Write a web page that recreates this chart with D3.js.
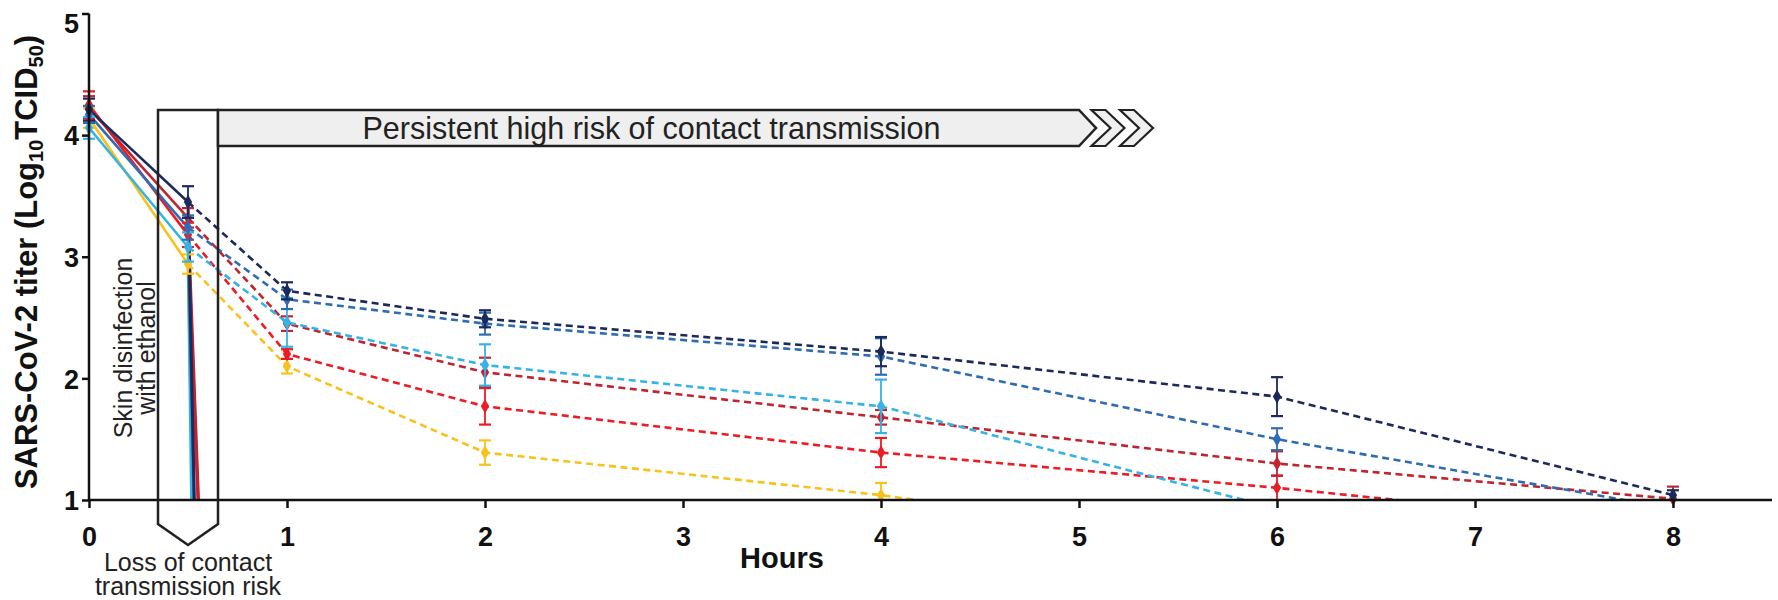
<!DOCTYPE html>
<html>
<head>
<meta charset="utf-8">
<script src="https://cdn.jsdelivr.net/npm/d3@7"></script>
<style>
  html, body { margin: 0; padding: 0; background: #fff; }
  svg { display: block; }
  text { font-family: "Liberation Sans", Arial, Helvetica, sans-serif; }
</style>
</head>
<body>
<svg id="chart" width="1778" height="600"></svg>
<script>
// ---------------- DATA ----------------
const hours = [0, 0.5, 1, 2, 4, 6, 8];
const xTicks = [0, 1, 2, 3, 4, 5, 6, 7, 8];
const yTicks = [1, 2, 3, 4, 5];

const navyTiter    = [4.21, 3.45, 2.72, 2.49, 2.22, 1.85, 1.04];
const navyErr      = [0.09, 0.13, 0.07, 0.07, 0.12, 0.16, 0.04];
const blueTiter    = [4.17, 3.24, 2.65, 2.45, 2.18, 1.50, 0.93];
const blueErr      = [0.07, 0.10, 0.08, 0.09, 0.15, 0.09, 0];
const cyanTiter    = [4.06, 3.08, 2.46, 2.11, 1.77, 0.93];
const cyanErr      = [0.09, 0.12, 0.20, 0.17, 0.22, 0];
const darkRedTiter = [4.22, 3.32, 2.45, 2.05, 1.68, 1.30, 1.01];
const darkRedErr   = [0.10, 0.08, 0.06, 0.12, 0.06, 0.10, 0.10];
const redTiter     = [4.25, 3.18, 2.20, 1.77, 1.39, 1.10, 0.77];
const redErr       = [0.11, 0.10, 0.04, 0.15, 0.12, 0.10, 0];
const yellowTiter  = [4.14, 2.94, 2.10, 1.39, 1.04, 0.60];
const yellowErr    = [0.08, 0.08, 0.06, 0.10, 0.10, 0];

// time at which the ethanol-disinfection drop line reaches the axis
const dropEnd = { yellow: 0.525, red: 0.55, darkRed: 0.553, cyan: 0.518, blue: 0.53, navy: 0.532 };

const disinfectionTime = 0.5;
const persistentEnd = 5;

const titleY = "SARS-CoV-2 titer";
const arrowLabel = "Persistent high risk of contact transmission";
const boxLabel = ["Skin disinfection", "with ethanol"];
const lossLabel = ["Loss of contact", "transmission risk"];
const xTitle = "Hours";

// ---------------- STYLE ----------------
const colors = {
  navy: "#1c2a5a", blue: "#2f6db3", cyan: "#36b3e6",
  darkRed: "#bf2530", red: "#ec1c24", yellow: "#f8c21b"
};
const series = [
  { key: "yellow",  v: yellowTiter,  e: yellowErr },
  { key: "red",     v: redTiter,     e: redErr },
  { key: "darkRed", v: darkRedTiter, e: darkRedErr },
  { key: "cyan",    v: cyanTiter,    e: cyanErr },
  { key: "blue",    v: blueTiter,    e: blueErr },
  { key: "navy",    v: navyTiter,    e: navyErr }
];

const svg = d3.select("#chart");
const x = d3.scaleLinear().domain([0, 8.5]).range([89, 1772]);
const y = d3.scaleLinear().domain([1, 5]).range([500, 13.5]);
const axisY = y(1);

// clip
svg.append("defs").append("clipPath").attr("id", "plotClip")
  .append("rect").attr("x", x(0)).attr("y", 0)
  .attr("width", x(8.5) - x(0) + 6).attr("height", axisY);

const line = d3.line().x(d => x(d[0])).y(d => y(d[1]));
const plot = svg.append("g").attr("clip-path", "url(#plotClip)");

// drop lines (solid, after ethanol)
series.forEach(s => {
  plot.append("path")
    .attr("d", line([[disinfectionTime, s.v[1]], [dropEnd[s.key], 1]]))
    .attr("fill", "none").attr("stroke", colors[s.key]).attr("stroke-width", 3);
});
// solid pre-disinfection lines
series.forEach(s => {
  plot.append("path")
    .attr("d", line([[hours[0], s.v[0]], [hours[1], s.v[1]]]))
    .attr("fill", "none").attr("stroke", colors[s.key]).attr("stroke-width", 2.6);
});
// dashed untreated continuation
series.forEach(s => {
  const pts = s.v.map((v, i) => [hours[i], v]).slice(1);
  plot.append("path")
    .attr("d", line(pts))
    .attr("fill", "none").attr("stroke", colors[s.key]).attr("stroke-width", 2.6)
    .attr("stroke-dasharray", "7,4.5");
});

// error bars + markers
const errG = svg.append("g");
series.forEach(s => {
  s.v.forEach((v, i) => {
    if (v < 1) return;
    const e = s.e[i];
    const cx = x(hours[i]);
    if (e > 0) {
      const lo = Math.max(1, v - e), hi = v + e;
      errG.append("line").attr("x1", cx).attr("x2", cx).attr("y1", y(lo)).attr("y2", y(hi))
        .attr("stroke", colors[s.key]).attr("stroke-width", 1.8);
      [lo, hi].forEach(b => {
        if (b === 1) return;
        errG.append("line").attr("x1", cx - 6).attr("x2", cx + 6).attr("y1", y(b)).attr("y2", y(b))
          .attr("stroke", colors[s.key]).attr("stroke-width", 2.2);
      });
    }
    errG.append("path")
      .attr("d", d3.symbol().type(d3.symbolDiamond).size(60)())
      .attr("transform", `translate(${cx},${y(v)})`)
      .attr("fill", colors[s.key]);
  });
});

// ---------------- AXES ----------------
const axG = svg.append("g");
const yAxis = d3.axisLeft(y).tickValues(yTicks).tickSize(7).tickFormat(d3.format("d"));
const gy = axG.append("g").attr("transform", `translate(${x(0)},0)`).call(yAxis);
gy.select(".domain").attr("stroke", "#111").attr("stroke-width", 2.5).attr("d", `M0,${y(5)}V${axisY}`);
gy.selectAll(".tick line").attr("stroke", "#111").attr("stroke-width", 2.5);
gy.selectAll(".tick text").attr("font-size", 27).attr("font-weight", "bold").attr("fill", "#111")
  .attr("x", -10).attr("dy", d => d === 5 ? "0.72em" : "0.36em")
  .attr("font-family", "'Liberation Sans', Arial, sans-serif");

const xAxis = d3.axisBottom(x).tickValues(xTicks).tickSize(8).tickFormat(d3.format("d"));
const gx = axG.append("g").attr("transform", `translate(0,${axisY})`).call(xAxis);
gx.select(".domain").attr("stroke", "#111").attr("stroke-width", 2.5).attr("d", `M${x(0)},0H${x(8.5)}`);
gx.selectAll(".tick line").attr("stroke", "#111").attr("stroke-width", 2.5);
gx.selectAll(".tick text").attr("font-size", 27).attr("font-weight", "bold").attr("fill", "#111")
  .attr("y", 27).attr("dy", "0.71em")
  .attr("font-family", "'Liberation Sans', Arial, sans-serif");

// axis titles
svg.append("text").attr("x", x(3.5)).attr("y", 568).attr("text-anchor", "middle")
  .attr("font-size", 29).attr("font-weight", "bold").attr("fill", "#111").text(xTitle);

const yt = svg.append("text").attr("transform", "translate(37,262) rotate(-90)")
  .attr("text-anchor", "middle").attr("font-size", 31).attr("font-weight", "bold").attr("fill", "#111");
yt.append("tspan").text(titleY + " (Log");
yt.append("tspan").attr("font-size", 20).attr("dy", 6).text("10");
yt.append("tspan").attr("dy", -6).text("TCID");
yt.append("tspan").attr("font-size", 20).attr("dy", 6).text("50");
yt.append("tspan").attr("dy", -6).text(")");

// ---------------- ANNOTATIONS ----------------
const boxHalf = 30, boxTop = 110, arrowBottom = 146;
const bx0 = x(disinfectionTime) - boxHalf, bx1 = x(disinfectionTime) + boxHalf;
const bcx = x(disinfectionTime);
svg.append("path")
  .attr("d", `M${bx0},${axisY + 24} V${boxTop} H${bx1} V${axisY + 24} L${bcx},${axisY + 45} Z`)
  .attr("fill", "none").attr("stroke", "#222").attr("stroke-width", 2.5).attr("stroke-linejoin", "miter");

// arrow
const ax1 = x(persistentEnd), tipDepth = 17, mid = (boxTop + arrowBottom) / 2;
svg.append("path")
  .attr("d", `M${bx1},${boxTop} H${ax1} L${ax1 + tipDepth},${mid} L${ax1},${arrowBottom} H${bx1} Z`)
  .attr("fill", "#efefef").attr("stroke", "#222").attr("stroke-width", 2.5);
[1, 2].forEach(i => {
  const tip = ax1 + tipDepth + 28.5 * i, d = 19, w = 14;
  svg.append("path")
    .attr("d", `M${tip - d - w},${boxTop} H${tip - d} L${tip},${mid} L${tip - d},${arrowBottom} H${tip - d - w} L${tip - w},${mid} Z`)
    .attr("fill", "#efefef").attr("stroke", "#222").attr("stroke-width", 2.2);
});
svg.append("text").attr("x", (bx1 + ax1) / 2 + 3).attr("y", mid + 11).attr("text-anchor", "middle")
  .attr("font-size", 30.5).attr("fill", "#222").text(arrowLabel);

// vertical box label
const vl = svg.append("text").attr("transform", `translate(${bx0 - 23},348) rotate(-90)`)
  .attr("text-anchor", "middle").attr("font-size", 25).attr("fill", "#222");
vl.append("tspan").attr("x", 0).attr("dy", -3).text(boxLabel[0]);
vl.append("tspan").attr("x", 0).attr("dy", 23).text(boxLabel[1]);

// loss label
const ll = svg.append("text").attr("text-anchor", "middle").attr("font-size", 25).attr("fill", "#222");
ll.append("tspan").attr("x", bcx).attr("y", 571).text(lossLabel[0]);
ll.append("tspan").attr("x", bcx).attr("y", 595).text(lossLabel[1]);
</script>
</body>
</html>
